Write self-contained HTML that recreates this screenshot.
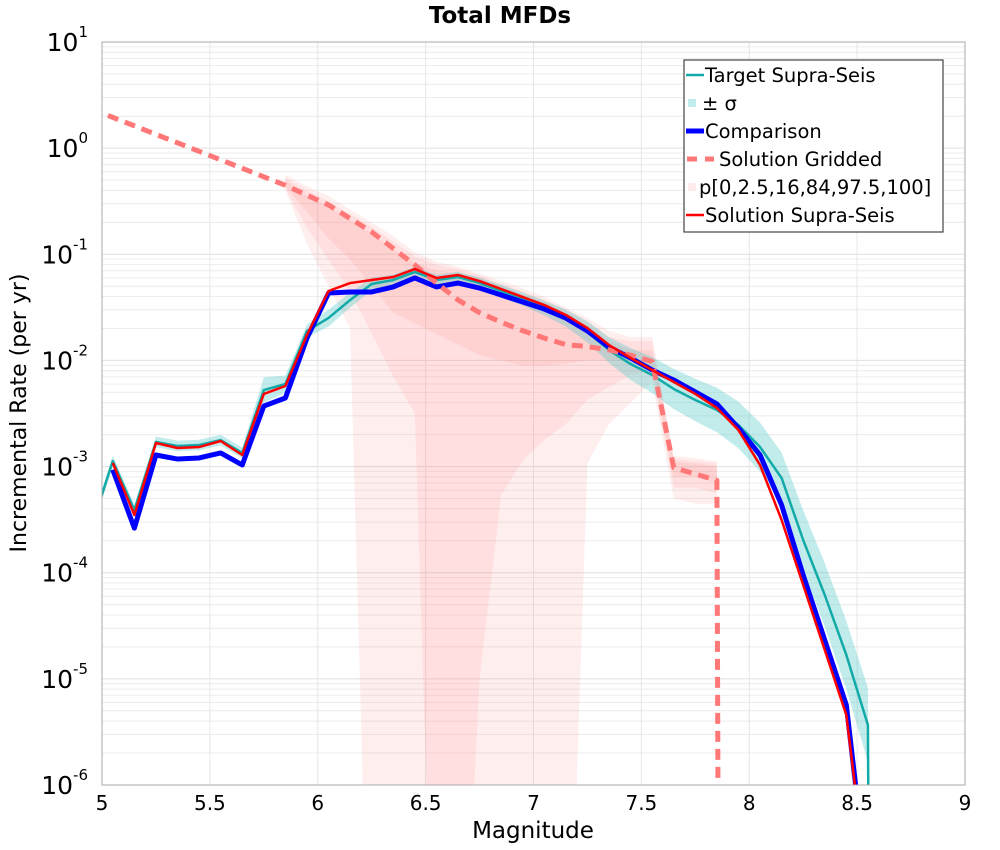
<!DOCTYPE html>
<html><head><meta charset="utf-8"><style>
body{margin:0;background:#fff;width:1000px;height:850px;overflow:hidden;font-family:"DejaVu Sans","Liberation Sans",sans-serif}
svg{display:block}
svg text{font-family:"DejaVu Sans","Liberation Sans",sans-serif}
</style></head><body>
<svg id="chart" width="1000" height="850" xmlns="http://www.w3.org/2000/svg"></svg>
<script>
const mags=[4.95,5.05,5.15,5.25,5.35,5.45,5.55,5.65,5.75,5.85,5.95,6.05,6.15,6.25,6.35,6.45,6.55,6.65,6.75,6.85,6.95,7.05,7.15,7.25,7.35,7.45,7.55,7.65,7.75,7.85,7.95,8.05,8.15,8.25,8.35,8.45,8.55,8.56];
const targetLog=[-3.58,-2.948,-3.41,-2.768,-2.806,-2.797,-2.75,-2.872,-2.279,-2.222,-1.723,-1.60,-1.431,-1.28,-1.242,-1.167,-1.242,-1.214,-1.271,-1.346,-1.422,-1.506,-1.601,-1.732,-1.902,-2.034,-2.137,-2.269,-2.373,-2.467,-2.608,-2.816,-3.108,-3.692,-4.21,-4.775,-5.435,-9];
const sigmaLog=[0.05,0.05,0.05,0.05,0.05,0.05,0.05,0.05,0.12,0.08,0.06,0.08,0.07,0.06,0.05,0.05,0.05,0.05,0.05,0.06,0.06,0.07,0.08,0.1,0.12,0.15,0.17,0.19,0.2,0.21,0.22,0.23,0.24,0.28,0.3,0.32,0.35,0.35];
const solMags=[5.05,5.15,5.25,5.35,5.45,5.55,5.65,5.75,5.85,5.95,6.05,6.15,6.25,6.35,6.45,6.55,6.65,6.75,6.85,6.95,7.05,7.15,7.25,7.35,7.45,7.55,7.65,7.75,7.85,7.95,8.05,8.15,8.25,8.35,8.45,8.55];
const compLog=[-3.03,-3.58,-2.891,-2.929,-2.919,-2.872,-2.985,-2.43,-2.354,-1.79,-1.365,-1.355,-1.355,-1.308,-1.223,-1.308,-1.271,-1.318,-1.384,-1.45,-1.516,-1.601,-1.723,-1.874,-1.977,-2.09,-2.184,-2.297,-2.41,-2.637,-2.891,-3.362,-4.022,-4.635,-5.247,-7];
const supraLog=[-2.966,-3.456,-2.778,-2.825,-2.816,-2.759,-2.891,-2.316,-2.241,-1.761,-1.346,-1.271,-1.242,-1.214,-1.139,-1.223,-1.195,-1.252,-1.327,-1.403,-1.478,-1.572,-1.695,-1.855,-1.977,-2.09,-2.203,-2.316,-2.448,-2.656,-2.985,-3.503,-4.116,-4.728,-5.341,-7];
const gridMags=[4.95,5.05,5.15,5.25,5.35,5.45,5.55,5.65,5.75,5.85,6.05,6.25,6.45,6.55,6.65,6.75,6.85,6.95,7.05,7.15,7.25,7.35,7.45,7.55,7.65,7.75,7.85,7.86];
const griddedLog=[0.37,0.29,0.21,0.13,0.05,-0.03,-0.11,-0.19,-0.27,-0.35,-0.536,-0.79,-1.1,-1.27,-1.43,-1.55,-1.64,-1.72,-1.79,-1.85,-1.87,-1.9,-1.95,-2.01,-3.01,-3.07,-3.13,-9];
const pMags=[5.85,5.95,6.05,6.15,6.25,6.35,6.45,6.55,6.65,6.75,6.85,6.95,7.05,7.15,7.25,7.35,7.45,7.55,7.65,7.75,7.85];
const p0=[-0.40,-0.90,-1.30,-1.70,-9,-9,-9,-9,-9,-9,-9,-9,-9,-9,-2.97,-2.60,-2.40,-2.20,-3.30,-3.35,-3.35];
const p2_5=[-0.38,-0.75,-1.05,-1.35,-1.75,-2.15,-2.50,-9,-9,-5.0,-3.27,-2.94,-2.75,-2.6,-2.37,-2.25,-2.14,-2.1,-3.2,-3.2,-3.25];
const p16=[-0.36,-0.6,-0.85,-1.05,-1.3,-1.55,-1.65,-1.75,-1.85,-1.95,-2.0,-2.05,-2.05,-2.03,-2.0,-2.0,-2.0,-2.05,-3.1,-3.1,-3.15];
const p84=[-0.3,-0.45,-0.55,-0.68,-0.8,-0.95,-1.08,-1.15,-1.18,-1.22,-1.3,-1.38,-1.45,-1.55,-1.67,-1.82,-1.9,-1.9,-2.95,-2.97,-3.0];
const p97_5=[-0.28,-0.4,-0.5,-0.62,-0.74,-0.88,-1.02,-1.1,-1.14,-1.2,-1.28,-1.35,-1.43,-1.52,-1.63,-1.78,-1.82,-1.82,-2.92,-2.95,-2.97];
const p100=[-0.25,-0.36,-0.45,-0.58,-0.7,-0.83,-0.98,-1.07,-1.12,-1.18,-1.25,-1.32,-1.4,-1.5,-1.6,-1.72,-1.78,-1.78,-2.9,-2.92,-2.95];
const xTicks=[5,5.5,6,6.5,7,7.5,8,8.5,9];
const xTickLabels=["5","5.5","6","6.5","7","7.5","8","8.5","9"];
const yDecades=[1,0,-1,-2,-3,-4,-5,-6];

const L=102,R=965,T=42,B=785,XMIN=5,XMAX=9,YMIN=-6,YMAX=1;
const X=m=>L+(m-XMIN)/(XMAX-XMIN)*(R-L);
const Y=lg=>T+(YMAX-lg)/(YMAX-YMIN)*(B-T);
const NS="http://www.w3.org/2000/svg";
const svg=document.getElementById('chart');
function mk(tag,attrs,parent){const e=document.createElementNS(NS,tag);for(const k in attrs)e.setAttribute(k,attrs[k]);(parent||svg).appendChild(e);return e;}
const defs=mk('defs',{});
const cp=mk('clipPath',{id:'plotclip'},defs);
mk('rect',{x:L,y:T,width:R-L,height:B-T},cp);

const grid=mk('g',{});


for(let d=-6;d<1;d++){for(let k=2;k<=9;k++){mk('line',{x1:L,x2:R,y1:Y(d+Math.log10(k)),y2:Y(d+Math.log10(k)),stroke:'#ececec','stroke-width':1},grid);}}
yDecades.forEach(d=>{mk('line',{x1:L,x2:R,y1:Y(d),y2:Y(d),stroke:'#e0e0e0','stroke-width':1},grid);});
xTicks.forEach(m=>{mk('line',{x1:X(m),x2:X(m),y1:T,y2:B,stroke:'#e6e6e6','stroke-width':1},grid);});

const plot=mk('g',{'clip-path':'url(#plotclip)'});


function band(xs,lo,hi,fill,name){
  let pts=[];xs.forEach((m,i)=>pts.push(X(m)+','+Y(hi[i])));
  for(let i=xs.length-1;i>=0;i--)pts.push(X(xs[i])+','+Y(lo[i]));
  const p=mk('polygon',{points:pts.join(' '),fill:fill},plot);
  
  
}
function line(xs,ys,attrs,name){
  const p=mk('polyline',Object.assign({points:xs.map((m,i)=>X(m)+','+Y(ys[i])).join(' '),fill:'none','stroke-linejoin':'round'},attrs),plot);
  
  
}
band(pMags,p0,p100,'rgba(255,120,120,0.13)','percentile-band-0-100');
band(pMags,p2_5,p97_5,'rgba(255,120,120,0.13)','percentile-band-2.5-97.5');
band(pMags,p16,p84,'rgba(255,120,120,0.13)','percentile-band-16-84');
const sLo=targetLog.map((v,i)=>v-sigmaLog[i]);
const sHi=targetLog.map((v,i)=>v+sigmaLog[i]);
band(mags,sLo,sHi,'rgba(80,200,200,0.35)','target-sigma-band');
line(mags,targetLog,{stroke:'#12aaa8','stroke-width':2.5},'target-supra-seis-line');
line(solMags,compLog,{stroke:'#0000ff','stroke-width':5},'comparison-line');
line(gridMags,griddedLog,{stroke:'#ff7777','stroke-width':5,'stroke-dasharray':'11,7'},'solution-gridded-line');
line(solMags,supraLog,{stroke:'#ff0000','stroke-width':2.5},'solution-supra-seis-line');

mk('rect',{x:L,y:T,width:R-L,height:B-T,fill:'none',stroke:'#aaa','stroke-width':1});

xTicks.forEach((m,i)=>{
  const t=mk('text',{x:X(m),y:810,'text-anchor':'middle','font-size':20,fill:'#000'});
  t.textContent=xTickLabels[i];
  
  
});
yDecades.forEach(d=>{
  const t=mk('text',{x:88,y:Y(d)+9,'text-anchor':'end','font-size':25,fill:'#000'});
  
  
  const b=mk('tspan',{},t);b.textContent='10';
  const s=mk('tspan',{dy:-14,'font-size':15},t);s.textContent=String(d);
});
const xt=mk('text',{x:533,y:838,'text-anchor':'middle','font-size':23});
xt.textContent='Magnitude';


const yt=mk('text',{x:0,y:0,'text-anchor':'middle','font-size':22,transform:'translate(26,413) rotate(-90)'});
yt.textContent='Incremental Rate (per yr)';


const tt=mk('text',{x:500,y:23,'text-anchor':'middle','font-size':23,'font-weight':'bold'});
tt.textContent='Total MFDs';



const lg=mk('g',{});


mk('rect',{x:684,y:60,width:259,height:172,fill:'#fff',stroke:'#444','stroke-width':1.2},lg);
const entries=[
 ['Target Supra-Seis','line','#12aaa8',2.5],
 ['± σ','sq','rgba(80,200,200,0.35)',0],
 ['Comparison','line','#0000ff',5],
 ['Solution Gridded','dash','#ff7777',5],
 ['p[0,2.5,16,84,97.5,100]','sq','rgba(255,120,120,0.15)',0],
 ['Solution Supra-Seis','line','#ff0000',2.5]];
entries.forEach((e,i)=>{
  const y=75+i*28;
  const g=mk('g',{},lg);
  
  
  let tx=705;
  if(e[1]==='line')mk('line',{x1:686,x2:704,y1:y,y2:y,stroke:e[2],'stroke-width':e[3]},g);
  else if(e[1]==='sq'){mk('rect',{x:688,y:y-4,width:8,height:8,fill:e[2]},g);tx=e[0]==='± σ'?702:699;}
  else{mk('line',{x1:687,x2:697,y1:y,y2:y,stroke:e[2],'stroke-width':5},g);mk('line',{x1:705,x2:714,y1:y,y2:y,stroke:e[2],'stroke-width':5},g);tx=719;}
  const t=mk('text',{x:tx,y:y+7,'font-size':19.5},g);t.textContent=e[0];
});
</script>
</body></html>
